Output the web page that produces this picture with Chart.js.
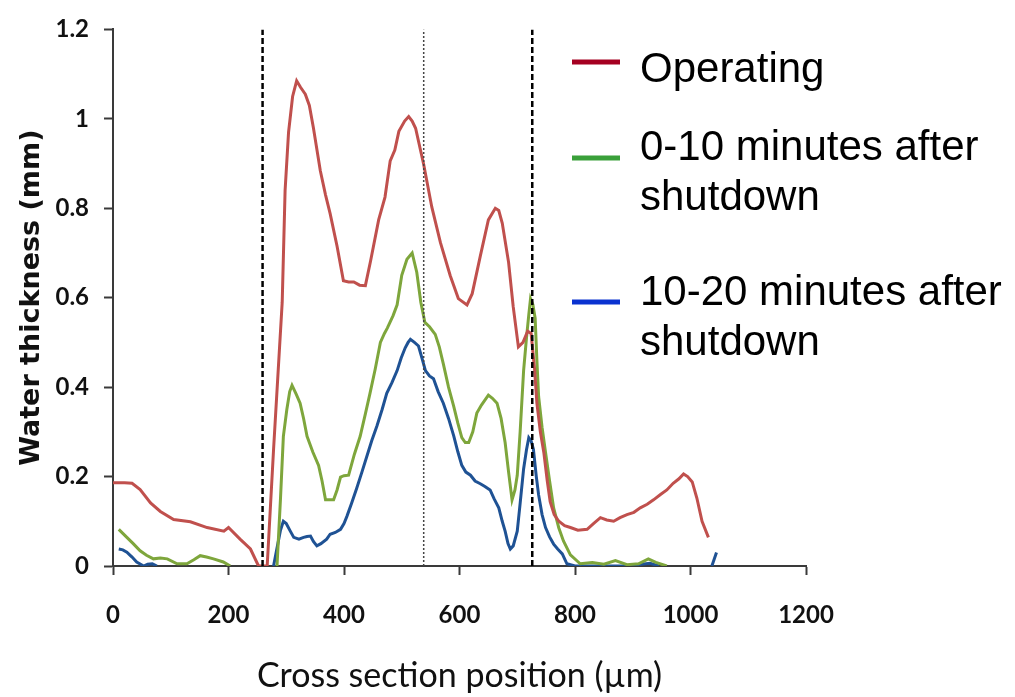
<!DOCTYPE html>
<html>
<head>
<meta charset="utf-8">
<title>Water thickness</title>
<script src="https://cdn.jsdelivr.net/npm/chart.js@4.4.1/dist/chart.umd.min.js"></script>
<style>
  html, body { margin: 0; padding: 0; background: #fff; }
</style>
</head>
<body>
<canvas id="chart" width="1015" height="697"></canvas>
<script>
// Cross section profiles (position in µm, thickness in mm)
const operatingX = [0, 20, 33, 47, 65, 82, 105, 134, 163, 192, 200, 220, 238, 252, 267, 278, 293, 298, 304, 311, 318, 325, 333, 340, 347, 359, 368, 376, 388, 399, 408, 417, 427, 437, 446, 460, 471, 480, 488, 495, 505, 512, 518, 524, 538, 552, 567, 584, 598, 613, 622, 636, 650, 662, 668, 674, 685, 693, 702, 710, 718, 724, 730, 734, 740, 746, 752, 757, 764, 772, 782, 792, 805, 821, 832, 844, 855, 867, 878, 890, 902, 913, 925, 936, 948, 959, 970, 980, 988, 995, 1003, 1011, 1020, 1031];
const operatingY = [0.186, 0.186, 0.185, 0.171, 0.141, 0.122, 0.104, 0.099, 0.086, 0.078, 0.086, 0.060, 0.038, 0, 0, 0.26, 0.59, 0.84, 0.97, 1.05, 1.085, 1.07, 1.055, 1.03, 0.98, 0.884, 0.83, 0.788, 0.715, 0.638, 0.635, 0.635, 0.628, 0.627, 0.682, 0.774, 0.825, 0.906, 0.93, 0.972, 0.995, 1.005, 0.995, 0.979, 0.898, 0.803, 0.723, 0.649, 0.598, 0.584, 0.609, 0.693, 0.774, 0.80, 0.795, 0.767, 0.679, 0.58, 0.49, 0.50, 0.525, 0.52, 0.44, 0.364, 0.30, 0.254, 0.19, 0.144, 0.115, 0.10, 0.09, 0.086, 0.08, 0.082, 0.095, 0.108, 0.103, 0.10, 0.108, 0.115, 0.12, 0.13, 0.138, 0.148, 0.16, 0.17, 0.185, 0.195, 0.206, 0.20, 0.188, 0.152, 0.10, 0.064];

const after10X = [10, 17, 24, 35, 47, 58, 70, 82, 94, 111, 128, 140, 151, 162, 174, 191, 203, 240, 284, 290, 295, 301, 306, 310, 317, 324, 330, 336, 346, 356, 362, 368, 375, 382, 388, 394, 400, 408, 418, 428, 437, 445, 454, 463, 470, 475, 485, 492, 500, 509, 518, 526, 533, 540, 548, 558, 565, 572, 581, 590, 597, 604, 610, 616, 623, 630, 638, 650, 657, 665, 672, 679, 685, 691, 696, 700, 705, 711, 716, 720, 723, 727, 731, 734, 737, 743, 749, 756, 763, 772, 780, 792, 809, 830, 850, 870, 890, 910, 927, 940, 959];
const after10Y = [0.082, 0.073, 0.064, 0.05, 0.034, 0.024, 0.016, 0.018, 0.016, 0.005, 0.005, 0.014, 0.023, 0.02, 0.016, 0.009, 0, null, 0, 0.15, 0.29, 0.35, 0.39, 0.404, 0.385, 0.364, 0.33, 0.29, 0.255, 0.225, 0.19, 0.148, 0.148, 0.148, 0.17, 0.199, 0.202, 0.203, 0.25, 0.29, 0.34, 0.386, 0.44, 0.50, 0.52, 0.532, 0.56, 0.584, 0.65, 0.686, 0.70, 0.657, 0.59, 0.545, 0.535, 0.518, 0.49, 0.452, 0.40, 0.357, 0.32, 0.287, 0.276, 0.276, 0.30, 0.342, 0.36, 0.382, 0.375, 0.364, 0.33, 0.276, 0.21, 0.148, 0.17, 0.203, 0.30, 0.437, 0.51, 0.562, 0.598, 0.585, 0.554, 0.46, 0.379, 0.31, 0.254, 0.19, 0.13, 0.085, 0.056, 0.025, 0.005, 0.008, 0.004, 0.012, 0.003, 0.005, 0.016, 0.008, 0];

const after20X = [10, 17, 24, 33, 41, 53, 60, 68, 76, 180, 278, 284, 290, 295, 300, 307, 313, 322, 330, 336, 342, 347, 353, 360, 370, 376, 385, 394, 400, 405, 413, 422, 431, 440, 448, 457, 466, 474, 483, 492, 499, 506, 511, 515, 522, 529, 535, 541, 548, 555, 563, 572, 581, 590, 597, 604, 611, 619, 627, 636, 644, 653, 660, 668, 674, 679, 684, 688, 693, 700, 705, 711, 716, 720, 724, 728, 733, 737, 743, 749, 756, 763, 770, 778, 786, 800, 850, 900, 915, 930, 945, 990, 1037, 1041, 1045];
const after20Y = [0.038, 0.036, 0.031, 0.02, 0.009, 0, 0.004, 0.005, 0, null, 0, 0.04, 0.08, 0.10, 0.095, 0.078, 0.064, 0.06, 0.064, 0.066, 0.067, 0.055, 0.045, 0.05, 0.06, 0.071, 0.075, 0.082, 0.095, 0.111, 0.14, 0.174, 0.21, 0.247, 0.28, 0.313, 0.35, 0.386, 0.41, 0.437, 0.465, 0.488, 0.50, 0.507, 0.50, 0.492, 0.465, 0.437, 0.425, 0.419, 0.39, 0.364, 0.33, 0.291, 0.256, 0.225, 0.21, 0.203, 0.19, 0.184, 0.178, 0.17, 0.15, 0.13, 0.10, 0.078, 0.05, 0.038, 0.045, 0.078, 0.14, 0.217, 0.26, 0.287, 0.28, 0.261, 0.20, 0.159, 0.115, 0.086, 0.065, 0.049, 0.038, 0.027, 0.005, 0, 0, 0, 0.004, 0.006, 0, null, 0, 0.015, 0.03];

// Region boundaries (µm)
const channelEdges = [259, 726];
const channelCenter = [538];

const xTickLabels = ['0', '200', '400', '600', '800', '1000', '1200'];
const yTickLabels = ['0', '0.2', '0.4', '0.6', '0.8', '1', '1.2'];

const legendLabels = [
    ['Operating'],
    ['0-10 minutes after', 'shutdown'],
    ['10-20 minutes after', 'shutdown']
];

function toPoints(xs, ys) {
    return xs.map((x, i) => ({ x: x, y: ys[i] }));
}

function verticalLine(pos, dash, width, color) {
    return {
        data: [{ x: pos, y: 0 }, { x: pos, y: 1.2 }],
        borderColor: color,
        borderWidth: width,
        borderDash: dash,
        pointRadius: 0,
        order: 0
    };
}

// Legend on the right, drawn over the plot
const legendPlugin = {
    id: 'sideLegend',
    afterDraw(chart) {
        const ctx = chart.ctx;
        const colors = ['#a50021', '#3aa03a', '#0a32d0'];
        const lineY = [62, 158, 302];
        const baseY = [82, 160, 305];
        ctx.save();
        ctx.font = '42px "Liberation Sans", Arial, sans-serif';
        ctx.textBaseline = 'alphabetic';
        legendLabels.forEach((lines, i) => {
            ctx.fillStyle = colors[i];
            ctx.fillRect(572, lineY[i] - 2.5, 48, 5);
            ctx.fillStyle = '#000';
            lines.forEach((t, j) => ctx.fillText(t, 640, baseY[i] + j * 50));
        });
        ctx.restore();
    }
};

const ctx = document.getElementById('chart').getContext('2d');

new Chart(ctx, {
    type: 'line',
    data: {
        datasets: [
            verticalLine(channelEdges[0], [6, 3], 2.5, '#000'),
            verticalLine(channelEdges[1], [6, 3], 2.5, '#000'),
            verticalLine(channelCenter[0], [2, 2], 1.5, '#444'),
            {
                label: 'Operating',
                data: toPoints(operatingX, operatingY),
                borderColor: '#c0504d',
                borderWidth: 3,
                pointRadius: 0,
                tension: 0,
                order: 1
            },
            {
                label: '0-10 minutes after shutdown',
                data: toPoints(after10X, after10Y),
                borderColor: '#7ea63c',
                borderWidth: 3,
                pointRadius: 0,
                tension: 0,
                order: 2
            },
            {
                label: '10-20 minutes after shutdown',
                data: toPoints(after20X, after20Y),
                borderColor: '#1f5294',
                borderWidth: 3,
                pointRadius: 0,
                tension: 0,
                order: 3
            }
        ]
    },
    options: {
        responsive: false,
        animation: false,
        spanGaps: false,
        layout: {
            padding: { top: 19, right: 209, left: 0, bottom: 0 }
        },
        plugins: {
            legend: { display: false },
            tooltip: { enabled: false }
        },
        scales: {
            x: {
                type: 'linear',
                min: 0,
                max: 1200,
                afterFit(scale) { scale.height = 131; },
                border: { color: '#3a3a3a', width: 2 },
                grid: {
                    drawOnChartArea: false,
                    tickLength: 9,
                    tickColor: '#3a3a3a',
                    tickWidth: 2
                },
                ticks: {
                    stepSize: 200,
                    padding: 26,
                    color: '#111',
                    font: { family: 'Lato', weight: 'bold', size: 24 },
                    callback: (value, index) => xTickLabels[index]
                },
                title: {
                    display: true,
                    text: 'Cross section position (µm)',
                    color: '#111',
                    font: { family: 'Lato', size: 34 },
                    padding: { top: 0, bottom: 1 }
                }
            },
            y: {
                min: 0,
                max: 1.2,
                afterFit(scale) { scale.width = 113; },
                border: { color: '#3a3a3a', width: 2 },
                grid: {
                    drawOnChartArea: false,
                    tickLength: 9,
                    tickColor: '#3a3a3a',
                    tickWidth: 2
                },
                ticks: {
                    stepSize: 0.2,
                    padding: 15,
                    color: '#111',
                    font: { family: 'Lato', weight: 'bold', size: 24 },
                    callback: (value, index) => yTickLabels[index]
                },
                title: {
                    display: true,
                    text: 'Water thickness (mm)',
                    color: '#111',
                    font: { family: 'DejaVu Sans', weight: 'bold', size: 27 },
                    padding: { top: 16, bottom: 0 }
                }
            }
        }
    },
    plugins: [legendPlugin]
});
</script>
</body>
</html>
